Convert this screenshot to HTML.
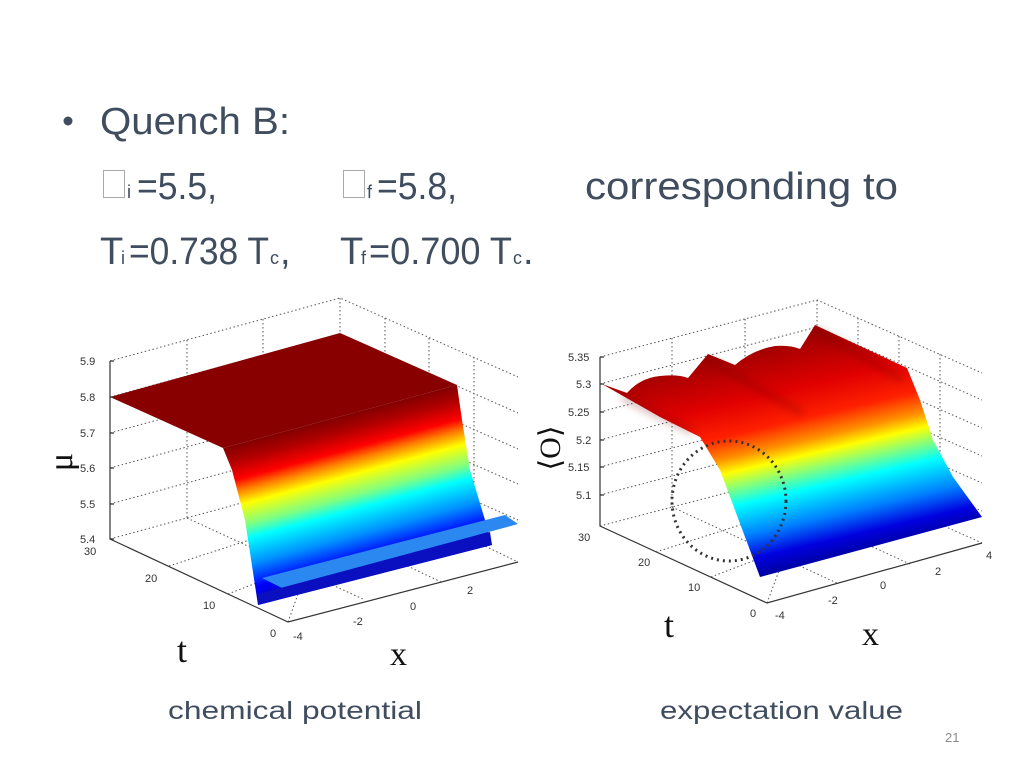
<!DOCTYPE html>
<html><head><meta charset="utf-8"><style>
html,body{margin:0;padding:0;background:#fff;}
svg{display:block;}
</style></head><body>
<svg width="1024" height="768" viewBox="0 0 1024 768" xmlns="http://www.w3.org/2000/svg">
<defs>
<linearGradient id="gl" gradientUnits="userSpaceOnUse" x1="340" y1="380" x2="400" y2="602">
<stop offset="0.15" stop-color="#800000"/><stop offset="0.22" stop-color="#b00000"/>
<stop offset="0.3" stop-color="#ff0000"/><stop offset="0.35" stop-color="#ff8000"/>
<stop offset="0.41" stop-color="#ffff00"/><stop offset="0.5" stop-color="#80ff80"/>
<stop offset="0.56" stop-color="#00ffff"/><stop offset="0.67" stop-color="#0090ff"/>
<stop offset="0.77" stop-color="#0000ff"/><stop offset="0.86" stop-color="#0000a0"/>
</linearGradient>
<linearGradient id="gr" gradientUnits="userSpaceOnUse" x1="790" y1="340" x2="845" y2="574">
<stop offset="0" stop-color="#a00000"/><stop offset="0.2" stop-color="#e00000"/>
<stop offset="0.33" stop-color="#ff2000"/><stop offset="0.42" stop-color="#ff9000"/>
<stop offset="0.48" stop-color="#ffff00"/><stop offset="0.62" stop-color="#00ffff"/>
<stop offset="0.75" stop-color="#0080ff"/><stop offset="0.85" stop-color="#0000e0"/>
<stop offset="0.95" stop-color="#000090"/>
</linearGradient>
<filter id="bl"><feGaussianBlur stdDeviation="4"/></filter>
</defs>
<g font-family="Liberation Sans, sans-serif" fill="#3f4d5e">
<circle cx="68" cy="121" r="4.5"/>
<text x="100" y="134" font-size="38" textLength="190" lengthAdjust="spacingAndGlyphs">Quench B:</text>
<rect x="103.5" y="170.5" width="21" height="27" fill="none" stroke="#aaa"/>
<text x="127" y="198" font-size="18">i</text>
<text x="137" y="199" font-size="38" textLength="80" lengthAdjust="spacingAndGlyphs">=5.5,</text>
<rect x="343.5" y="170.5" width="21" height="27" fill="none" stroke="#aaa"/>
<text x="367" y="198" font-size="18">f</text>
<text x="377" y="199" font-size="38" textLength="80" lengthAdjust="spacingAndGlyphs">=5.8,</text>
<text x="585" y="199" font-size="38" textLength="313" lengthAdjust="spacingAndGlyphs">corresponding to</text>
<text x="100" y="264" font-size="38">T</text><text x="121" y="264" font-size="18">i</text>
<text x="129" y="264" font-size="38" textLength="140" lengthAdjust="spacingAndGlyphs">=0.738 T</text>
<text x="270" y="264" font-size="18">c</text><text x="280" y="264" font-size="38">,</text>
<text x="340" y="264" font-size="38">T</text><text x="361" y="264" font-size="18">f</text>
<text x="369" y="264" font-size="38" textLength="143" lengthAdjust="spacingAndGlyphs">=0.700 T</text>
<text x="513" y="264" font-size="18">c</text><text x="523" y="264" font-size="38">.</text>
<text x="168" y="719" font-size="25" textLength="254" lengthAdjust="spacingAndGlyphs">chemical potential</text>
<text x="660" y="719" font-size="25" textLength="243" lengthAdjust="spacingAndGlyphs">expectation value</text>
<text x="945" y="742" font-size="13" fill="#8a8a8a">21</text>
</g>

<!-- LEFT PLOT -->
<g stroke="#555" stroke-width="1" stroke-dasharray="1.5,2.5" fill="none">
<path d="M110,361 L340,298 L518,377"/>
<path d="M110,397 L340,334 L518,413 M110,433 L340,370 L518,449 M110,468 L340,405 L518,484 M110,504 L340,441 L518,520 M110,539 L340,476 L518,562"/>
<path d="M187,340 V518 M263,319 V497 M340,298 V476"/>
<path d="M385,318 V496 M429,338 V516 M474,357 V540"/>
<path d="M187,518 L365,600 M263,497 L441,582 M169,566 L385,496 M228,594 L429,516 M288,622 L340,476"/>
</g>
<polygon points="110,397 340,333 457,385 223,448" fill="#880000"/>
<polygon points="223,448 457,385 462,420 470,470 485,520 492,545 258,605 245,520 232,470" fill="url(#gl)"/>
<polygon points="262,578 505,515 518,524 282,588" fill="#2a88f0"/>
<polygon points="258,605 492,545 490,532 258,594" fill="#0a10c0"/>
<g stroke="#333" stroke-width="1.2" fill="none">
<path d="M110,361 V539 L288,622 L518,562"/>
<path d="M110,361 h4 M110,397 h4 M110,433 h4 M110,468 h4 M110,504 h4 M110,539 h4"/>
</g>
<g font-family="Liberation Sans, sans-serif" font-size="11" fill="#333">
<text x="80" y="365">5.9</text><text x="80" y="401">5.8</text><text x="80" y="437">5.7</text>
<text x="80" y="472">5.6</text><text x="80" y="508">5.5</text><text x="80" y="543">5.4</text>
<text x="84" y="555">30</text><text x="145" y="582">20</text><text x="203" y="609">10</text><text x="270" y="637">0</text>
<text x="293" y="640">-4</text><text x="353" y="625">-2</text><text x="410" y="610">0</text><text x="467" y="594">2</text>
</g>
<g font-family="Liberation Serif, serif" fill="#111">
<text x="0" y="0" font-size="34" transform="translate(72,462) rotate(-90)" text-anchor="middle">μ</text>
<text x="177" y="662" font-size="36">t</text>
<text x="390" y="665" font-size="34">x</text>
</g>

<!-- RIGHT PLOT -->
<g stroke="#555" stroke-width="1" stroke-dasharray="1.5,2.5" fill="none">
<path d="M600,357 L817,300 L982,373"/>
<path d="M600,384 L817,327 L982,400 M600,412 L817,355 L982,428 M600,440 L817,383 L982,456 M600,467 L817,410 L982,483 M600,495 L817,438 L982,511 M600,526 L817,469 L982,543"/>
<path d="M672,338 V507 M745,319 V488 M817,300 V469"/>
<path d="M858,318 V487 M899,336 V505 M940,354 V525"/>
<path d="M672,507 L839,584 M745,488 L912,565 M656,552 L858,487 M711,577 L899,505 M767,603 L817,469"/>
</g>
<path d="M602,384 L627,393 Q640,378 660,376 Q678,374 688,378 L708,354 L735,365 Q752,350 775,346 Q790,345 800,349 L815,325 L907,368 L920,400 L933,440 L953,477 L982,517 L760,577 L720,470 L700,437 L660,417 Z" fill="url(#gr)"/>
<g stroke="#700000" stroke-opacity="0.25" stroke-width="8" fill="none" stroke-linecap="round" filter="url(#bl)">
<path d="M712,362 L800,412"/><path d="M818,332 L900,378"/><path d="M625,398 L690,430"/>
</g>
<ellipse cx="729" cy="501" rx="57" ry="60" fill="none" stroke="#333" stroke-width="3" stroke-dasharray="2,4"/>
<g stroke="#333" stroke-width="1.2" fill="none">
<path d="M600,357 V526 L767,603 L982,543"/>
<path d="M600,357 h4 M600,384 h4 M600,412 h4 M600,440 h4 M600,467 h4 M600,495 h4"/>
</g>
<g font-family="Liberation Sans, sans-serif" font-size="11" fill="#333">
<text x="568" y="361">5.35</text><text x="576" y="388">5.3</text><text x="568" y="416">5.25</text>
<text x="576" y="444">5.2</text><text x="568" y="471">5.15</text><text x="576" y="499">5.1</text>
<text x="578" y="541">30</text><text x="638" y="566">20</text><text x="688" y="591">10</text><text x="750" y="617">0</text>
<text x="775" y="619">-4</text><text x="828" y="604">-2</text><text x="880" y="589">0</text><text x="935" y="575">2</text><text x="986" y="559">4</text>
</g>
<g font-family="Liberation Serif, serif" fill="#111">
<text x="0" y="0" font-size="30" transform="translate(560,448) rotate(-90)" text-anchor="middle">⟨O⟩</text>
<text x="664" y="637" font-size="36">t</text>
<text x="862" y="645" font-size="34">x</text>
</g>
</svg>
</body></html>
